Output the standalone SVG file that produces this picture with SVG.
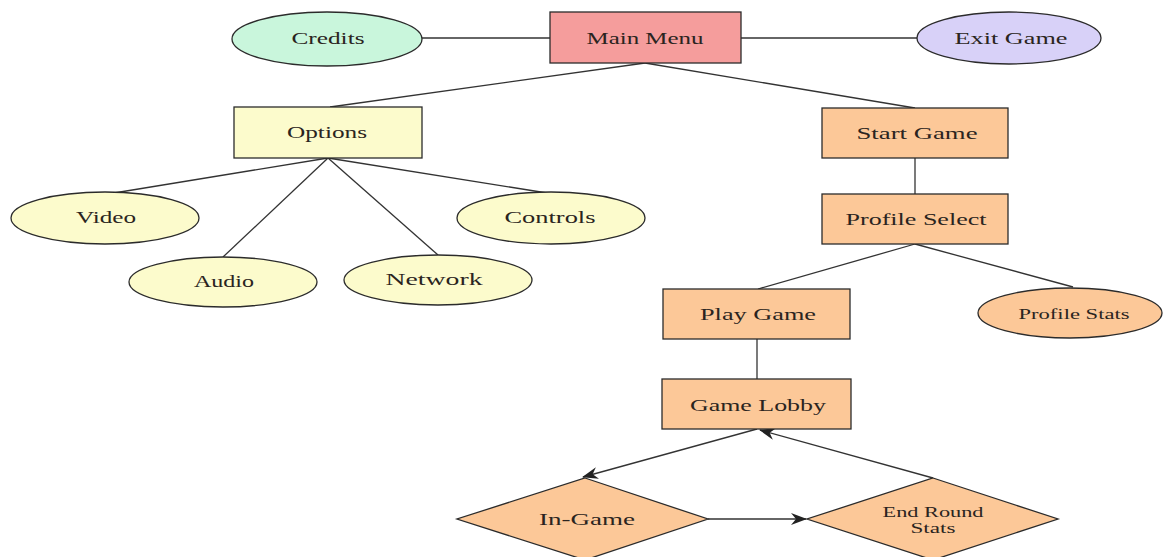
<svg xmlns="http://www.w3.org/2000/svg" width="1166" height="557" viewBox="0 0 1166 557">
<style>
.n{stroke:#2b2b2b;stroke-width:1.3}
.red{fill:#f59d9c}
.green{fill:#c9f6dc}
.violet{fill:#d8d1f8}
.yel{fill:#fcfbcc}
.org{fill:#fcc898}
.t{font-family:"Liberation Serif","Times New Roman",serif;font-size:16px;fill:#2a2420;text-anchor:middle}
.s{font-size:14px}
.c line{stroke:#333;stroke-width:1.3;fill:none}
</style>
<defs>
<marker id="arr" viewBox="0 0 16 12" refX="15" refY="6" markerWidth="16" markerHeight="12" markerUnits="userSpaceOnUse" orient="auto">
<path d="M0,0 L16,6 L0,12 L5,6 Z" fill="#222"/>
</marker>
</defs>
<rect width="1166" height="557" fill="#ffffff"/>
<g class="c" id="connectors">
<line x1="422" y1="38" x2="550" y2="38"/>
<line x1="741" y1="38" x2="917" y2="38"/>
<line x1="645" y1="63" x2="330" y2="107"/>
<line x1="645" y1="63" x2="915" y2="108"/>
<line x1="328" y1="158" x2="114" y2="193"/>
<line x1="328" y1="158" x2="223" y2="257"/>
<line x1="328" y1="158" x2="438" y2="255"/>
<line x1="328" y1="158" x2="547" y2="193"/>
<line x1="915" y1="158" x2="915" y2="194"/>
<line x1="915" y1="244" x2="758" y2="289"/>
<line x1="915" y1="244" x2="1073" y2="287"/>
<line x1="757" y1="339" x2="757" y2="379"/>
<line x1="757" y1="429" x2="583" y2="477" marker-end="url(#arr)"/>
<line x1="933" y1="478" x2="760" y2="430" marker-end="url(#arr)"/>
<line x1="708" y1="519" x2="806" y2="519" marker-end="url(#arr)"/>
</g>
<g id="main-menu"><rect class="n red" x="550" y="12" width="191" height="51"/><text class="t" x="645" y="44" textLength="117" lengthAdjust="spacingAndGlyphs">Main Menu</text></g>
<g id="credits"><ellipse class="n green" cx="327" cy="39" rx="95" ry="27"/><text class="t" x="328" y="44" textLength="73" lengthAdjust="spacingAndGlyphs">Credits</text></g>
<g id="exit-game"><ellipse class="n violet" cx="1009" cy="38" rx="92" ry="26"/><text class="t" x="1011" y="44" textLength="113" lengthAdjust="spacingAndGlyphs">Exit Game</text></g>
<g id="options"><rect class="n yel" x="234" y="107" width="188" height="51"/><text class="t" x="327" y="138" textLength="80" lengthAdjust="spacingAndGlyphs">Options</text></g>
<g id="video"><ellipse class="n yel" cx="105" cy="218" rx="94" ry="26"/><text class="t" x="106" y="223" textLength="60" lengthAdjust="spacingAndGlyphs">Video</text></g>
<g id="audio"><ellipse class="n yel" cx="223" cy="282" rx="94" ry="25"/><text class="t" x="224" y="287" textLength="60" lengthAdjust="spacingAndGlyphs">Audio</text></g>
<g id="network"><ellipse class="n yel" cx="438" cy="280" rx="94" ry="25"/><text class="t" x="434" y="285" textLength="97" lengthAdjust="spacingAndGlyphs">Network</text></g>
<g id="controls"><ellipse class="n yel" cx="551" cy="218" rx="94" ry="26"/><text class="t" x="550" y="223" textLength="91" lengthAdjust="spacingAndGlyphs">Controls</text></g>
<g id="start-game"><rect class="n org" x="822" y="108" width="186" height="50"/><text class="t" x="917" y="139" textLength="121" lengthAdjust="spacingAndGlyphs">Start Game</text></g>
<g id="profile-select"><rect class="n org" x="822" y="194" width="186" height="50"/><text class="t" x="916" y="225" textLength="141" lengthAdjust="spacingAndGlyphs">Profile Select</text></g>
<g id="play-game"><rect class="n org" x="663" y="289" width="187" height="50"/><text class="t" x="758" y="320" textLength="116" lengthAdjust="spacingAndGlyphs">Play Game</text></g>
<g id="profile-stats"><ellipse class="n org" cx="1070" cy="313" rx="92" ry="25"/><text class="t s" x="1074" y="319" textLength="111" lengthAdjust="spacingAndGlyphs">Profile Stats</text></g>
<g id="game-lobby"><rect class="n org" x="662" y="379" width="189" height="50"/><text class="t" x="758" y="411" textLength="136" lengthAdjust="spacingAndGlyphs">Game Lobby</text></g>
<g id="in-game"><polygon class="n org" points="585,478 708,519 585,560 457,519"/><text class="t" x="587" y="525" textLength="96" lengthAdjust="spacingAndGlyphs">In-Game</text></g>
<g id="end-round-stats"><polygon class="n org" points="933,478 1058,519 933,560 807,519"/><text class="t s" x="933" y="517" textLength="101" lengthAdjust="spacingAndGlyphs">End Round</text><text class="t s" x="933" y="533" textLength="45" lengthAdjust="spacingAndGlyphs">Stats</text></g>
</svg>
